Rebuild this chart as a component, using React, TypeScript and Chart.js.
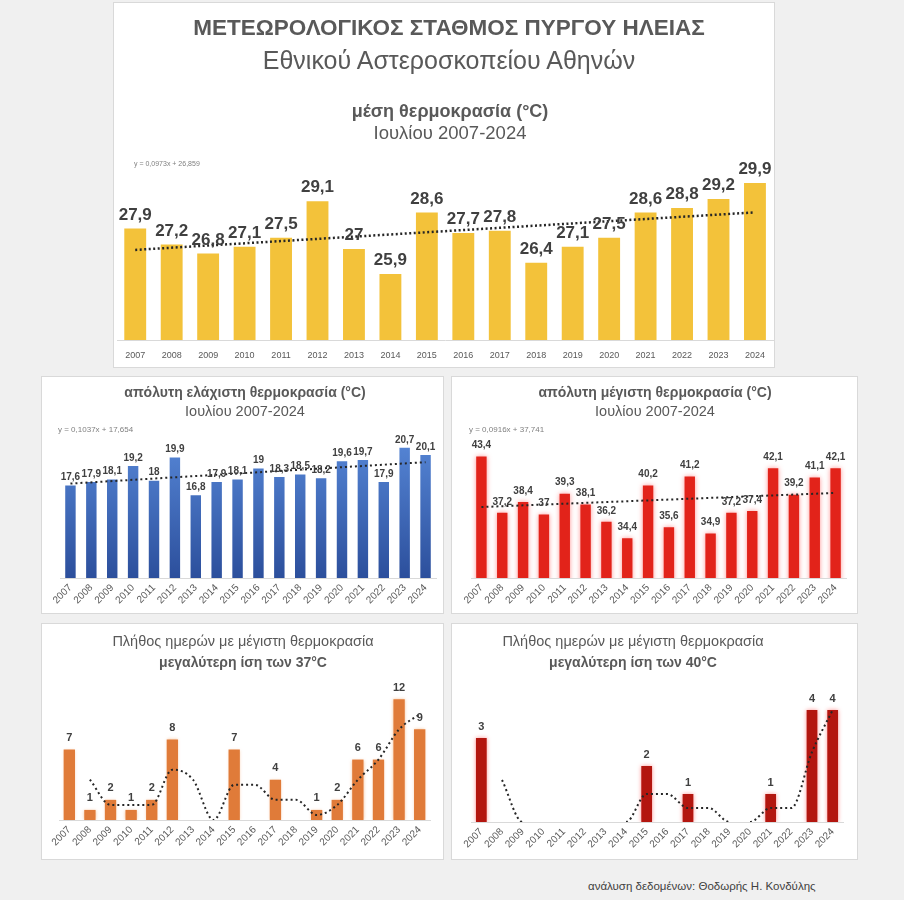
import React, { useEffect, useRef } from 'react';
import { Chart, registerables } from 'chart.js';

const YEARS = ['2007', '2008', '2009', '2010', '2011', '2012', '2013', '2014', '2015', '2016', '2017', '2018', '2019', '2020', '2021', '2022', '2023', '2024'];

const MEAN_TEMP = [27.9, 27.2, 26.8, 27.1, 27.5, 29.1, 27, 25.9, 28.6, 27.7, 27.8, 26.4, 27.1, 27.5, 28.6, 28.8, 29.2, 29.9];
const MEAN_TREND = [26.96, null, null, null, null, null, null, null, null, null, null, null, null, null, null, null, null, 28.61];

const MIN_TEMP = [17.6, 17.9, 18.1, 19.2, 18, 19.9, 16.8, 17.9, 18.1, 19, 18.3, 18.5, 18.2, 19.6, 19.7, 17.9, 20.7, 20.1];
const MIN_TREND = [17.76, null, null, null, null, null, null, null, null, null, null, null, null, null, null, null, null, 19.52];

const MAX_TEMP = [43.4, 37.2, 38.4, 37, 39.3, 38.1, 36.2, 34.4, 40.2, 35.6, 41.2, 34.9, 37.2, 37.4, 42.1, 39.2, 41.1, 42.1];
const MAX_TREND = [37.83, null, null, null, null, null, null, null, null, null, null, null, null, null, null, null, null, 39.39];

const DAYS_37 = [7, 1, 2, 1, 2, 8, 0, 0, 7, 0, 4, 0, 1, 2, 6, 6, 12, 9];
const DAYS_37_MA = [null, 4, 1.5, 1.5, 1.5, 5, 4, 0, 3.5, 3.5, 2, 2, 0.5, 1.5, 4, 6, 9, 10.5];

const DAYS_40 = [3, 0, 0, 0, 0, 0, 0, 0, 2, 0, 1, 0, 0, 0, 1, 0, 4, 4];
const DAYS_40_MA = [null, 1.5, 0, 0, 0, 0, 0, 0, 1, 1, 0.5, 0.5, 0, 0, 0.5, 0.5, 2.5, 4];

const FONT = '"Liberation Sans", Arial, sans-serif';

const valueLabels = {
  id: 'valueLabels',
  afterDatasetsDraw(chart: any, _args: any, opts: any) {
    if (!opts || !opts.font) return;
    const meta = chart.getDatasetMeta(0);
    const ds = chart.data.datasets[0];
    const ctx = chart.ctx;
    ctx.save();
    ctx.font = opts.font;
    ctx.fillStyle = opts.color;
    ctx.textAlign = 'center';
    ctx.textBaseline = 'bottom';
    meta.data.forEach((el: any, i: number) => {
      const v = ds.data[i];
      if (!v) return;
      ctx.fillText(String(v).replace('.', ','), el.x, el.y - opts.offset);
    });
    ctx.restore();
  },
};

const barGlow = {
  id: 'barGlow',
  beforeDatasetDraw(chart: any, args: any, opts: any) {
    if (!opts || !opts.color || args.meta.type !== 'bar') return;
    chart.ctx.save();
    chart.ctx.shadowColor = opts.color;
    chart.ctx.shadowBlur = opts.blur;
  },
  afterDatasetDraw(chart: any, args: any, opts: any) {
    if (!opts || !opts.color || args.meta.type !== 'bar') return;
    chart.ctx.restore();
  },
};

Chart.register(...registerables, valueLabels, barGlow);

const blueGradient = (c: any) => {
  const ch = c.chart;
  const a = ch.chartArea;
  if (!a) return '#4472c4';
  const g = ch.ctx.createLinearGradient(0, a.top, 0, a.bottom);
  g.addColorStop(0, '#5889d9');
  g.addColorStop(1, '#2c4f9c');
  return g;
};

type Spec = {
  box: { x: number; y: number; w: number; h: number };
  pad: { left: number; right: number; top: number };
  axisHeight: number;
  values: number[];
  line: (number | null)[];
  smooth: boolean;
  hideZero: boolean;
  barColor: any;
  barPct: number;
  glow?: { color: string; blur: number };
  yMin: number;
  yMax: number;
  rotate: number;
  tickSize: number;
  tickPad: number;
  labelFont: string;
  labelOffset: number;
  lineWidth: number;
  lineDash: number[];
};

const SPECS: Spec[] = [
  {
    box: { x: 113, y: 2, w: 662, h: 366 },
    pad: { left: 4, right: 1, top: 156 },
    axisHeight: 28,
    values: MEAN_TEMP,
    line: MEAN_TREND,
    smooth: false,
    hideZero: false,
    barColor: '#f3c23a',
    barPct: 0.6,
    yMin: 23,
    yMax: 31,
    rotate: 0,
    tickSize: 9,
    tickPad: 10,
    labelFont: `bold 17px ${FONT}`,
    labelOffset: 5,
    lineWidth: 2.5,
    lineDash: [2, 2.5],
  },
  {
    box: { x: 41, y: 376, w: 403, h: 238 },
    pad: { left: 19, right: 8, top: 56 },
    axisHeight: 36,
    values: MIN_TEMP,
    line: MIN_TREND,
    smooth: false,
    hideZero: false,
    barColor: blueGradient,
    barPct: 0.5,
    yMin: 10,
    yMax: 22,
    rotate: 45,
    tickSize: 10,
    tickPad: 4,
    labelFont: `bold 10px ${FONT}`,
    labelOffset: 3,
    lineWidth: 2,
    lineDash: [2, 3],
  },
  {
    box: { x: 451, y: 376, w: 407, h: 238 },
    pad: { left: 20, right: 12, top: 57 },
    axisHeight: 36,
    values: MAX_TEMP,
    line: MAX_TREND,
    smooth: false,
    hideZero: false,
    barColor: '#e2231a',
    glow: { color: 'rgba(255,120,120,0.8)', blur: 5 },
    barPct: 0.5,
    yMin: 30,
    yMax: 46,
    rotate: 45,
    tickSize: 10,
    tickPad: 4,
    labelFont: `bold 10px ${FONT}`,
    labelOffset: 6,
    lineWidth: 2,
    lineDash: [2, 3],
  },
  {
    box: { x: 41, y: 623, w: 403, h: 237 },
    pad: { left: 18, right: 14, top: 56 },
    axisHeight: 40,
    values: DAYS_37,
    line: DAYS_37_MA,
    smooth: true,
    hideZero: false,
    barColor: '#e07b39',
    glow: { color: 'rgba(245,180,130,0.7)', blur: 3 },
    barPct: 0.55,
    yMin: 0,
    yMax: 14,
    rotate: 45,
    tickSize: 10,
    tickPad: 4,
    labelFont: `bold 11px ${FONT}`,
    labelOffset: 6,
    lineWidth: 2,
    lineDash: [2, 3],
  },
  {
    box: { x: 451, y: 623, w: 407, h: 237 },
    pad: { left: 20, right: 15, top: 59 },
    axisHeight: 38,
    values: DAYS_40,
    line: DAYS_40_MA,
    smooth: true,
    hideZero: true,
    barColor: '#b3160f',
    glow: { color: 'rgba(255,120,120,0.8)', blur: 4 },
    barPct: 0.52,
    yMin: 0,
    yMax: 5,
    rotate: 45,
    tickSize: 10,
    tickPad: 4,
    labelFont: `bold 11px ${FONT}`,
    labelOffset: 6,
    lineWidth: 2,
    lineDash: [2, 3],
  },
];

function buildConfig(spec: Spec): any {
  const lineDs: any = {
    type: 'line',
    data: spec.line,
    borderColor: '#262626',
    borderWidth: spec.lineWidth,
    borderDash: spec.lineDash,
    pointRadius: 0,
    spanGaps: !spec.smooth,
    fill: false,
    tension: spec.smooth ? 0.4 : 0,
    cubicInterpolationMode: spec.smooth ? 'monotone' : 'default',
    order: 0,
  };
  if (spec.hideZero) {
    lineDs.segment = {
      borderColor: (c: any) => (c.p0.parsed.y === 0 && c.p1.parsed.y === 0 ? 'rgba(0,0,0,0)' : '#262626'),
    };
  }
  return {
    type: 'bar',
    data: {
      labels: YEARS,
      datasets: [
        {
          type: 'bar',
          data: spec.values,
          backgroundColor: spec.barColor,
          barPercentage: spec.barPct,
          categoryPercentage: 1,
          order: 1,
        },
        lineDs,
      ],
    },
    options: {
      responsive: false,
      animation: false,
      devicePixelRatio: 1,
      layout: { padding: { left: spec.pad.left, right: spec.pad.right, top: spec.pad.top, bottom: 0 } },
      plugins: {
        legend: { display: false },
        tooltip: { enabled: false },
        valueLabels: { font: spec.labelFont, color: '#404040', offset: spec.labelOffset },
        barGlow: spec.glow ? { color: spec.glow.color, blur: spec.glow.blur } : {},
      },
      scales: {
        x: {
          grid: { display: false, drawTicks: false },
          border: { display: true, color: '#d9d9d9', width: 1 },
          ticks: {
            autoSkip: false,
            minRotation: spec.rotate,
            maxRotation: spec.rotate,
            color: '#595959',
            padding: spec.tickPad,
            font: { family: FONT, size: spec.tickSize },
          },
          afterFit: (s: any) => {
            s.height = spec.axisHeight;
          },
        },
        y: { display: false, min: spec.yMin, max: spec.yMax },
      },
    },
  };
}

function ChartCanvas({ spec }: { spec: Spec }) {
  const ref = useRef<HTMLCanvasElement | null>(null);
  useEffect(() => {
    const chart = new Chart(ref.current as HTMLCanvasElement, buildConfig(spec));
    return () => chart.destroy();
  }, [spec]);
  return (
    <canvas
      ref={ref}
      width={spec.box.w}
      height={spec.box.h}
      style={{ position: 'absolute', left: spec.box.x, top: spec.box.y, width: spec.box.w, height: spec.box.h }}
    />
  );
}

function Box({ b }: { b: { x: number; y: number; w: number; h: number } }) {
  return (
    <div
      style={{
        position: 'absolute',
        left: b.x,
        top: b.y,
        width: b.w,
        height: b.h,
        boxSizing: 'border-box',
        background: '#ffffff',
        border: '1px solid #d9d9d9',
      }}
    />
  );
}

function Txt({ cx, cy, size, bold, color, children, left }: any) {
  return (
    <div
      style={{
        position: 'absolute',
        left: cx,
        top: cy,
        transform: left ? 'translate(0,-50%)' : 'translate(-50%,-50%)',
        whiteSpace: 'nowrap',
        fontSize: size,
        fontWeight: bold ? 'bold' : 'normal',
        color: color || '#595959',
        lineHeight: 1,
        fontFamily: FONT,
      }}
    >
      {children}
    </div>
  );
}

export default function App() {
  return (
    <div
      style={{
        position: 'absolute',
        left: 0,
        top: 0,
        width: 904,
        height: 900,
        background: '#f0f0f0',
        overflow: 'hidden',
        fontFamily: FONT,
      }}
    >
      {SPECS.map((s, i) => (
        <Box key={'b' + i} b={s.box} />
      ))}
      {SPECS.map((s, i) => (
        <ChartCanvas key={'c' + i} spec={s} />
      ))}

      <Txt cx={449} cy={28} size={22.5} bold>ΜΕΤΕΩΡΟΛΟΓΙΚΟΣ ΣΤΑΘΜΟΣ ΠΥΡΓΟΥ ΗΛΕΙΑΣ</Txt>
      <Txt cx={449} cy={60} size={25}>Εθνικού Αστεροσκοπείου Αθηνών</Txt>
      <Txt cx={450} cy={111} size={18} bold>μέση θερμοκρασία (°C)</Txt>
      <Txt cx={450} cy={133} size={18.5}>Ιουλίου 2007-2024</Txt>
      <Txt cx={134} cy={163} size={7} left color="#7f7f7f">y = 0,0973x + 26,859</Txt>

      <Txt cx={245} cy={392} size={14} bold>απόλυτη ελάχιστη θερμοκρασία (°C)</Txt>
      <Txt cx={245} cy={411} size={14.5}>Ιουλίου 2007-2024</Txt>
      <Txt cx={58} cy={430} size={8} left color="#7f7f7f">y = 0,1037x + 17,654</Txt>

      <Txt cx={655} cy={392} size={14} bold>απόλυτη μέγιστη θερμοκρασία (°C)</Txt>
      <Txt cx={655} cy={411} size={14.5}>Ιουλίου 2007-2024</Txt>
      <Txt cx={469} cy={430} size={8} left color="#7f7f7f">y = 0,0916x + 37,741</Txt>

      <Txt cx={243} cy={641} size={14.5}>Πλήθος ημερών με μέγιστη θερμοκρασία</Txt>
      <Txt cx={243} cy={662} size={14} bold>μεγαλύτερη ίση των 37°C</Txt>

      <Txt cx={633} cy={641} size={14.5}>Πλήθος ημερών με μέγιστη θερμοκρασία</Txt>
      <Txt cx={633} cy={662} size={14} bold>μεγαλύτερη ίση των 40°C</Txt>

      <Txt cx={588} cy={887} size={11.5} left color="#404040">ανάλυση δεδομένων: Θοδωρής Η. Κονδύλης</Txt>
    </div>
  );
}
